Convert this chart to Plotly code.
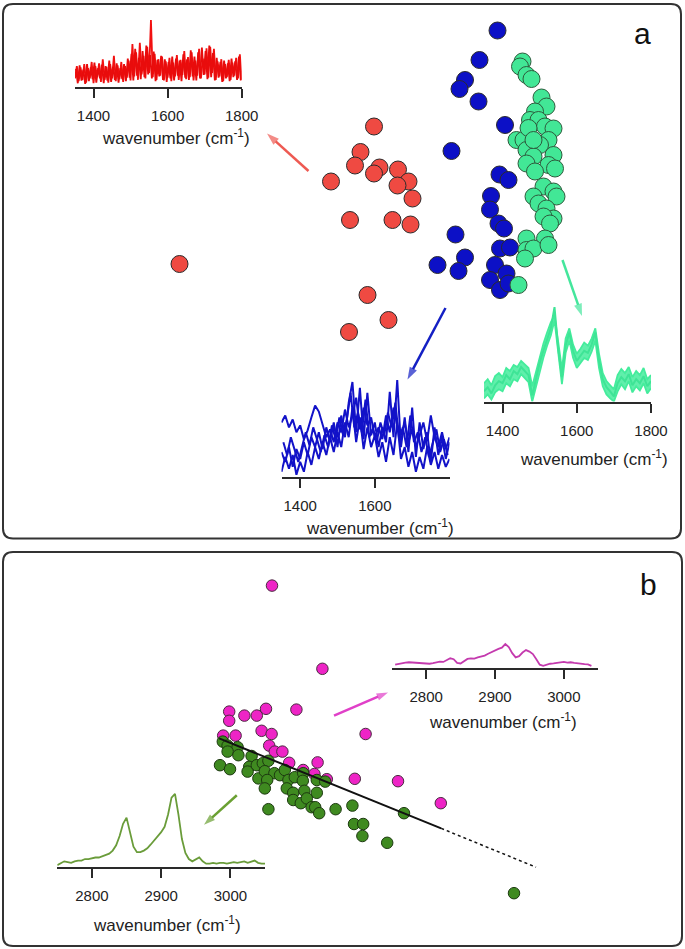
import plotly.graph_objects as go

W, H = 685, 949

# ---------------- Panel a : PCA scores ----------------
red_pc1 = [-1.52, -1.79, -1.90, -1.41, -1.52, -1.04, -0.83, -1.05, -2.38, -0.75, -2.00, -1.15, -0.79, -1.65, -5.41, -1.23, -2.02]
red_pc2 = [3.47, 2.96, 2.69, 2.65, 2.53, 2.61, 2.37, 2.29, 2.37, 2.03, 1.60, 1.60, 1.51, 0.10, 0.72, -0.40, -0.64]

blue_pc1 = [0.95, 0.59, 0.30, 0.19, 0.57, 1.10, 0.03, 0.99, 1.17, 0.82, 0.80, 0.97, 1.08, 0.11, 0.30, -0.25, 0.17, 1.00, 1.20, 0.90, 0.80, 1.13, 1.00, 1.17]
blue_pc2 = [5.39, 4.80, 4.40, 4.22, 3.97, 3.50, 2.98, 2.51, 2.40, 2.08, 1.81, 1.53, 1.43, 1.31, 0.85, 0.70, 0.58, 1.03, 1.05, 0.70, 0.40, 0.53, 0.20, 0.33]

green_pc1 = [1.45, 1.40, 1.53, 1.63, 1.83, 1.93, 1.70, 1.60, 1.77, 1.90, 2.07, 1.33, 1.47, 1.97, 1.53, 1.80, 2.07, 1.67, 1.53, 1.97,
             2.10, 1.70, 1.87, 2.07, 1.67, 2.13, 1.77, 1.93, 2.07, 1.87, 2.00, 1.53, 1.90, 1.53, 1.67, 1.97, 1.50, 1.37, 1.57, 1.67]
green_pc2 = [4.77, 4.67, 4.50, 4.42, 4.05, 3.87, 3.77, 3.60, 3.60, 3.47, 3.43, 3.20, 3.20, 3.20, 3.00, 3.10, 2.90, 2.87, 2.73, 2.70,
             2.63, 2.57, 2.27, 2.17, 2.07, 2.07, 1.93, 1.83, 1.63, 1.67, 1.53, 1.23, 1.23, 1.00, 1.03, 1.10, 0.83, 0.30, 3.44, 3.20]

# ---------------- Panel a : spectra (1350-1800 cm-1) ----------------
wn_a5 = list(range(1350, 1805, 5))
wn_a5b = [w + 2.5 for w in range(1350, 1800, 5)]
wn_a10 = list(range(1350, 1810, 10))
wn_a10b = list(range(1355, 1800, 10))

red_spec_1 = [0.12, 0.30, 0.08, 0.28, 0.10, 0.33, 0.06, 0.27, 0.12, 0.36,
              0.05, 0.30, 0.14, 0.34, 0.07, 0.40, 0.10, 0.29, 0.06, 0.33,
              0.12, 0.45, 0.08, 0.31, 0.11, 0.36, 0.07, 0.30, 0.13, 0.38,
              0.09, 0.62, 0.15, 0.50, 0.10, 0.64, 0.18, 0.45, 0.12, 0.58,
              0.20, 0.97, 0.14, 0.48, 0.10, 0.40, 0.16, 0.44, 0.09, 0.37,
              0.13, 0.42, 0.08, 0.35, 0.15, 0.46, 0.10, 0.39, 0.17, 0.52,
              0.11, 0.43, 0.14, 0.50, 0.09, 0.38, 0.16, 0.55, 0.12, 0.41,
              0.18, 0.56, 0.13, 0.58, 0.20, 0.55, 0.10, 0.37, 0.15, 0.40,
              0.08, 0.33, 0.14, 0.39, 0.10, 0.35, 0.16, 0.42, 0.12, 0.47,
              0.10]
red_spec_2 = [0.26, 0.05, 0.31, 0.09, 0.25, 0.04, 0.33, 0.08, 0.28, 0.11,
              0.35, 0.06, 0.27, 0.12, 0.32, 0.05, 0.30, 0.09, 0.38, 0.07,
              0.29, 0.10, 0.34, 0.06, 0.27, 0.11, 0.33, 0.08, 0.41, 0.13,
              0.48, 0.09, 0.55, 0.16, 0.42, 0.11, 0.52, 0.14, 0.60, 0.18,
              0.46, 0.12, 0.51, 0.08, 0.39, 0.15, 0.45, 0.10, 0.40, 0.07,
              0.36, 0.12, 0.44, 0.09, 0.41, 0.16, 0.38, 0.08, 0.47, 0.13,
              0.40, 0.10, 0.53, 0.15, 0.44, 0.09, 0.50, 0.12, 0.57, 0.17,
              0.52, 0.11, 0.60, 0.14, 0.49, 0.09, 0.42, 0.13, 0.36, 0.07,
              0.38, 0.12, 0.34, 0.08, 0.41, 0.14, 0.37, 0.10, 0.44, 0.09]

blue_spec_1 = [0.25, 0.15, 0.30, 0.10, 0.28, 0.18, 0.35, 0.22, 0.40, 0.30,
               0.45, 0.28, 0.50, 0.35, 0.55, 0.30, 0.62, 0.40, 0.75, 0.96,
               0.45, 0.90, 0.38, 0.85, 0.42, 0.55, 0.30, 0.50, 0.35, 0.86,
               0.40, 0.98, 0.30, 0.60, 0.25, 0.70, 0.20, 0.55, 0.28, 0.45,
               0.15, 0.50, 0.22, 0.40, 0.18, 0.35]
blue_spec_2 = [0.55, 0.62, 0.50, 0.58, 0.45, 0.52, 0.38, 0.47, 0.60, 0.72,
               0.66, 0.52, 0.40, 0.48, 0.35, 0.55, 0.45, 0.68, 0.50, 0.62,
               0.80, 0.48, 0.70, 0.52, 0.60, 0.40, 0.50, 0.38, 0.62, 0.45,
               0.70, 0.52, 0.42, 0.55, 0.35, 0.48, 0.30, 0.42, 0.55, 0.36,
               0.62, 0.40, 0.30, 0.45, 0.28, 0.40]
blue_spec_3 = [0.05, 0.20, 0.08, 0.22, 0.02, 0.15, 0.05, 0.25, 0.12, 0.30,
               0.18, 0.35, 0.22, 0.40, 0.25, 0.45, 0.30, 0.55, 0.40, 0.70,
               0.35, 0.60, 0.28, 0.50, 0.30, 0.42, 0.20, 0.35, 0.15, 0.40,
               0.22, 0.55, 0.18, 0.30, 0.10, 0.25, 0.05, 0.20, 0.08, 0.30,
               0.12, 0.25, 0.08, 0.22, 0.10, 0.18]
blue_spec_4 = [0.35, 0.22, 0.40, 0.28, 0.15, 0.30, 0.45, 0.32, 0.50, 0.38,
               0.25, 0.42, 0.30, 0.52, 0.38, 0.60, 0.42, 0.58, 0.85, 0.50,
               0.65, 0.45, 0.78, 0.40, 0.48, 0.35, 0.55, 0.42, 0.65, 0.50,
               0.75, 0.38, 0.50, 0.30, 0.62, 0.35, 0.45, 0.25, 0.40, 0.20,
               0.35, 0.48, 0.25, 0.38, 0.22]

green_spec_mid = [0.10, 0.14, 0.08, 0.16, 0.20, 0.18, 0.26, 0.22, 0.30, 0.27,
                  0.34, 0.30, 0.26, 0.06, 0.22, 0.38, 0.50, 0.62, 0.72, 0.93,
                  0.52, 0.24, 0.55, 0.68, 0.50, 0.40, 0.45, 0.50, 0.48, 0.56,
                  0.68, 0.40, 0.22, 0.14, 0.10, 0.05, 0.18, 0.24, 0.20, 0.27,
                  0.16, 0.22, 0.18, 0.25, 0.15, 0.20]
green_spec_hi = [0.18, 0.22, 0.16, 0.25, 0.28, 0.24, 0.33, 0.30, 0.36, 0.34,
                 0.40, 0.36, 0.33, 0.15, 0.30, 0.44, 0.57, 0.68, 0.78, 0.85,
                 0.60, 0.32, 0.62, 0.72, 0.56, 0.47, 0.52, 0.58, 0.55, 0.62,
                 0.72, 0.47, 0.28, 0.20, 0.16, 0.12, 0.26, 0.32, 0.28, 0.34,
                 0.24, 0.30, 0.26, 0.33, 0.22, 0.26]
green_spec_lo = [0.03, 0.07, 0.02, 0.09, 0.12, 0.10, 0.18, 0.15, 0.22, 0.20,
                 0.27, 0.23, 0.19, 0.00, 0.15, 0.30, 0.43, 0.55, 0.65, 0.80,
                 0.45, 0.17, 0.48, 0.60, 0.43, 0.33, 0.38, 0.43, 0.41, 0.49,
                 0.60, 0.33, 0.15, 0.07, 0.03, 0.00, 0.10, 0.17, 0.12, 0.20,
                 0.09, 0.15, 0.11, 0.18, 0.08, 0.13]

# ---------------- Panel b : PCA scores ----------------
mag_pc1 = [-0.70, 0.56, -1.77, -1.77, -1.39, -1.08, -0.85, -0.09, -0.96, -0.71, -1.92, -1.61, 1.64, -0.77, -0.63, -0.44,
           -0.27, 0.44, 0.08, 0.36, 0.67, 1.37, 2.45, 3.52]
mag_pc2 = [4.11, 2.03, 0.96, 0.73, 0.86, 0.86, 1.03, 1.01, 0.48, 0.40, 0.36, 0.36, 0.40, 0.11, -0.04, -0.04,
           -0.32, -0.31, -0.50, -0.60, -0.73, -0.72, -0.78, -1.33]

grn_pc1 = [-1.93, -1.81, -1.56, -1.81, -1.54, -2.00, -1.75, -1.21, -1.27, -1.31, -1.08, -0.93, -0.79, -1.04, -0.88,
           -0.64, -0.50, -0.38, -0.29, -0.13, 0.08, 0.07, 0.42, 0.63, -0.82, -0.88, -0.33, -0.17, 0.11, 0.42,
           -0.17, 0.02, 0.17, 0.29, 0.38, 0.48, -0.79, 0.89, 1.31, 1.35, 1.58, 1.56, 2.18, 2.60, 5.35]
grn_pc2 = [0.21, 0.11, 0.07, -0.04, -0.13, -0.38, -0.48, -0.15, -0.42, -0.54, -0.38, -0.33, -0.27, -0.71, -0.53,
           -0.58, -0.63, -0.50, -0.75, -0.68, -0.58, -0.77, -0.75, -0.79, -0.75, -0.96, -0.96, -1.07, -1.02, -1.07,
           -1.25, -1.33, -1.21, -1.43, -1.43, -1.58, -1.48, -1.48, -1.39, -1.85, -1.85, -2.15, -2.32, -1.58, -3.58]

fit_pc1 = [-2.02, 3.53]
fit_pc2 = [0.29, -1.96]
ext_pc1 = [3.53, 5.90]
ext_pc2 = [-1.96, -2.93]

# ---------------- Panel b : spectra (2750-3050 cm-1) ----------------
wn_b_mag = list(range(2755, 3045, 5))
mag_spec = [0.12, 0.15, 0.18, 0.19, 0.20, 0.19, 0.20, 0.18, 0.17, 0.16,
            0.15, 0.17, 0.20, 0.22, 0.21, 0.27, 0.33, 0.30, 0.18, 0.16,
            0.25, 0.31, 0.33, 0.32, 0.36, 0.38, 0.42, 0.48, 0.54, 0.60,
            0.64, 0.68, 0.80, 0.70, 0.50, 0.36, 0.40, 0.52, 0.60, 0.55,
            0.47, 0.30, 0.12, 0.08, 0.12, 0.15, 0.16, 0.18, 0.19, 0.21,
            0.19, 0.20, 0.18, 0.16, 0.15, 0.14, 0.13, 0.08]
wn_b_grn = list(range(2750, 3055, 5))
grn_spec = [0.02, 0.04, 0.07, 0.06, 0.05, 0.07, 0.08, 0.08, 0.10, 0.10,
            0.11, 0.12, 0.12, 0.14, 0.15, 0.17, 0.21, 0.28, 0.40, 0.56,
            0.64, 0.46, 0.26, 0.19, 0.19, 0.21, 0.24, 0.29, 0.34, 0.40,
            0.45, 0.52, 0.68, 0.90, 0.95, 0.68, 0.36, 0.18, 0.10, 0.07,
            0.09, 0.12, 0.07, 0.04, 0.04, 0.05, 0.04, 0.05, 0.05, 0.04,
            0.05, 0.06, 0.05, 0.06, 0.07, 0.05, 0.07, 0.08, 0.05, 0.04,
            0.04]

ticks_a_full = [1400, 1600, 1800]
ticks_a_blue = [1400, 1600]
ticks_b = [2800, 2900, 3000]

# arrows: tail -> head, in score units of each panel
arrow_red_x, arrow_red_y = [-2.83, -3.66], [2.58, 3.33]
arrow_blue_x, arrow_blue_y = [-0.09, -0.85], [-0.16, -1.59]
arrow_green_x, arrow_green_y = [2.25, 2.64], [0.80, -0.32]
arrow_mag_x, arrow_mag_y = [0.85, 2.20], [0.86, 1.44]
arrow_grn_x, arrow_grn_y = [-1.58, -2.40], [-1.13, -1.87]

# ---------------- helpers ----------------
def px_x(p):
    return p / W

def px_y(p):
    return 1 - p / H

FONT = "Liberation Sans, Arial, sans-serif"
AX = "#2a2a2a"

fig = go.Figure()

def pts(x, y, color, size, xa, ya, line="#2b2b2b"):
    fig.add_trace(go.Scatter(x=x, y=y, mode="markers", xaxis=xa, yaxis=ya,
                             marker=dict(size=size, color=color, line=dict(color=line, width=1)),
                             showlegend=False, hoverinfo="skip"))

def spec(x, y, color, width, xa, ya, fill=None, fillcolor=None):
    fig.add_trace(go.Scatter(x=x, y=y, mode="lines", xaxis=xa, yaxis=ya,
                             line=dict(color=color, width=width), fill=fill, fillcolor=fillcolor,
                             showlegend=False, hoverinfo="skip"))

def arrow(x, y, color, xa, ya, head=13):
    fig.add_trace(go.Scatter(x=x, y=y, mode="lines+markers", xaxis=xa, yaxis=ya,
                             line=dict(color=color, width=2.5),
                             marker=dict(symbol="arrow", angleref="previous", size=[0, head],
                                         color=color, line=dict(width=0)),
                             showlegend=False, hoverinfo="skip"))

# panel a scatter
pts(red_pc1, red_pc2, "#ef4a42", 17, "x", "y")
pts(blue_pc1, blue_pc2, "#0c10c6", 17, "x", "y")
pts(green_pc1, green_pc2, "#42e796", 17, "x", "y", line="#2d5a3c")

arrow(arrow_red_x, arrow_red_y, "#ee5a52", "x", "y")
arrow(arrow_blue_x, arrow_blue_y, "#1420c4", "x", "y")
arrow(arrow_green_x, arrow_green_y, "#44e69c", "x", "y")

# panel a spectra
spec(wn_a5, red_spec_1, "#f21010", 1.8, "x3", "y3")
spec(wn_a5b, red_spec_2, "#e80c0c", 1.8, "x3", "y3")

spec(wn_a10, blue_spec_2, "#1212c8", 2.0, "x4", "y4")
spec(wn_a10, blue_spec_3, "#1212c8", 2.0, "x4", "y4")
spec(wn_a10b, blue_spec_4, "#1212c8", 2.0, "x4", "y4")
spec(wn_a10, blue_spec_1, "#1212c8", 2.0, "x4", "y4")

spec(wn_a10, green_spec_lo, "#44ec9c", 1.8, "x5", "y5")
spec(wn_a10, green_spec_hi, "#44ec9c", 1.8, "x5", "y5", fill="tonexty", fillcolor="rgba(68,236,156,0.85)")
spec(wn_a10, green_spec_mid, "#3ee496", 2.0, "x5", "y5")

# panel b scatter
pts(mag_pc1, mag_pc2, "#ee24c6", 11.5, "x2", "y2", line="#4a2a40")
pts(grn_pc1, grn_pc2, "#3f8a20", 11.5, "x2", "y2", line="#1d3a10")
fig.add_trace(go.Scatter(x=fit_pc1, y=fit_pc2, mode="lines", xaxis="x2", yaxis="y2",
                         line=dict(color="#111111", width=2), showlegend=False, hoverinfo="skip"))
fig.add_trace(go.Scatter(x=ext_pc1, y=ext_pc2, mode="lines", xaxis="x2", yaxis="y2",
                         line=dict(color="#111111", width=1.5, dash="dot"), showlegend=False, hoverinfo="skip"))
arrow(arrow_mag_x, arrow_mag_y, "#e040c8", "x2", "y2", head=12)
arrow(arrow_grn_x, arrow_grn_y, "#6aa032", "x2", "y2", head=12)

# panel b spectra
spec(wn_b_mag, mag_spec, "#c43aae", 1.8, "x6", "y6")
spec(wn_b_grn, grn_spec, "#6a9c3a", 1.8, "x7", "y7")

# ---------------- layout ----------------
hidden = dict(visible=False, showgrid=False, zeroline=False, fixedrange=True, automargin=False)

def inset_x(dom, rng, ticks, anchor):
    return dict(domain=dom, range=rng, anchor=anchor, showline=True, linecolor=AX, linewidth=2,
                ticks="outside", ticklen=9, tickwidth=2, tickcolor=AX, tickvals=ticks,
                ticklabelstandoff=5, automargin=False,
                tickfont=dict(family=FONT, size=15, color="#222"), showgrid=False, zeroline=False,
                fixedrange=True)

def inset_y(dom, anchor):
    return dict(domain=dom, range=[0, 1], anchor=anchor, visible=False, showgrid=False,
                zeroline=False, fixedrange=True, automargin=False)

fig.update_layout(
    width=W, height=H, autosize=False, margin=dict(l=0, r=0, t=0, b=0, pad=0),
    paper_bgcolor="white", plot_bgcolor="rgba(0,0,0,0)",
    xaxis=dict(hidden, domain=[0, 1], range=[-9.0, 4.7], anchor="y"),
    yaxis=dict(hidden, domain=[px_y(538), 1], range=[-4.76, 6.0], anchor="x"),
    xaxis2=dict(hidden, domain=[0, 1], range=[-7.5, 9.625], anchor="y2"),
    yaxis2=dict(hidden, domain=[0, px_y(552)], range=[-4.975, 4.95], anchor="x2"),
    xaxis3=inset_x([px_x(75), px_x(241.7)], [1350, 1800], ticks_a_full, "y3"),
    yaxis3=inset_y([px_y(86.7), px_y(18)], "x3"),
    xaxis4=inset_x([px_x(281.5), px_x(449.5)], [1350, 1800], ticks_a_blue, "y4"),
    yaxis4=inset_y([px_y(476.7), px_y(378)], "x4"),
    xaxis5=inset_x([px_x(484), px_x(651)], [1350, 1800], ticks_a_full, "y5"),
    yaxis5=inset_y([px_y(401.5), px_y(300)], "x5"),
    xaxis6=inset_x([px_x(391.7), px_x(598.3)], [2750, 3050], ticks_b, "y6"),
    yaxis6=inset_y([px_y(668.3), px_y(638)], "x6"),
    xaxis7=inset_x([px_x(57.3), px_x(265)], [2750, 3050], ticks_b, "y7"),
    yaxis7=inset_y([px_y(866.7), px_y(790)], "x7"),
)

# panel frames (rounded rectangles)
def rrect(x0, y0, x1, y1, r=10):
    X0, X1 = px_x(x0), px_x(x1)
    Y0, Y1 = px_y(y0), px_y(y1)
    rx, ry = r / W, r / H
    return (f"M {X0+rx},{Y0} L {X1-rx},{Y0} Q {X1},{Y0} {X1},{Y0-ry} "
            f"L {X1},{Y1+ry} Q {X1},{Y1} {X1-rx},{Y1} L {X0+rx},{Y1} Q {X0},{Y1} {X0},{Y1+ry} "
            f"L {X0},{Y0-ry} Q {X0},{Y0} {X0+rx},{Y0} Z")

for (a, b, c, d) in [(3, 4, 681, 538.5), (3, 552, 682, 946)]:
    fig.add_shape(type="path", path=rrect(a, b, c, d), xref="paper", yref="paper",
                  line=dict(color="#333333", width=2), fillcolor="rgba(0,0,0,0)", layer="below")

# panel letters
fig.add_annotation(text="a", x=px_x(642), y=px_y(33), xref="paper", yref="paper", showarrow=False,
                   font=dict(family=FONT, size=30, color="#111"), xanchor="center", yanchor="middle")
fig.add_annotation(text="b", x=px_x(648), y=px_y(584), xref="paper", yref="paper", showarrow=False,
                   font=dict(family=FONT, size=30, color="#111"), xanchor="center", yanchor="middle")

# inset axis titles
title = "wavenumber (cm<sup>-1</sup>)"
for (cx, cy) in [(175.5, 136.5), (380, 527), (594, 458), (503, 721), (166.7, 923.5)]:
    fig.add_annotation(text=title, x=px_x(cx), y=px_y(cy), xref="paper", yref="paper", showarrow=False,
                       font=dict(family=FONT, size=17, color="#222"), xanchor="center", yanchor="middle")

fig.write_html(
    "out.html",
    config={"displayModeBar": False},
    post_script="document.body.style.margin='0';document.body.style.overflow='hidden';",
)
